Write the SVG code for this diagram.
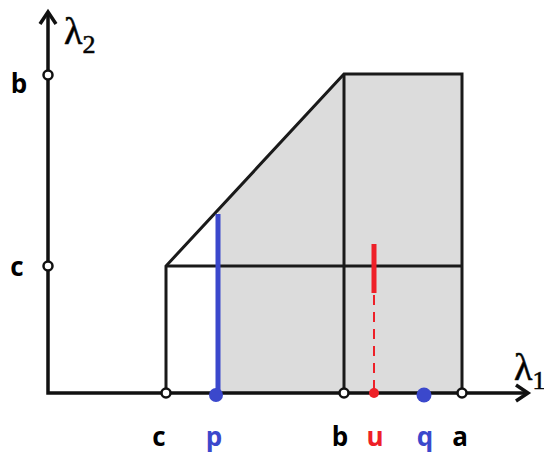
<svg xmlns="http://www.w3.org/2000/svg" width="544" height="456" viewBox="0 0 544 456">
<style>
.ln{stroke:#1a1a1a;stroke-width:3;fill:none}
.ax{stroke:#111;stroke-width:3.5;fill:none}
.oc{fill:#fff;stroke:#111;stroke-width:2.5}
.lb{font-family:"Open Sans","Liberation Sans",sans-serif;font-weight:bold;font-size:26px;text-anchor:middle}
.gr{font-family:"Liberation Serif","DejaVu Serif",serif;font-size:38px;stroke:#111;stroke-width:0.6}
</style>
<rect width="544" height="456" fill="#fff"/>
<g id="region">
<polygon points="218,211 344,74 462,74 462,393 218,393" fill="#dcdcdc"/>
</g>
<g id="connectors">
<polyline class="ln" points="166,393 166,266 344,74 462,74 462,393"/>
<line class="ln" x1="166" y1="266" x2="462" y2="266"/>
<line class="ln" x1="344" y1="74" x2="344" y2="393"/>
<polyline class="ax" points="48,12 48,393 528,393"/>
<polyline class="ax" points="40,24 48,12 56,24"/>
<polyline class="ax" points="516,385 528,393 516,401"/>
<line x1="218" y1="214" x2="218" y2="393" stroke="#3b48cc" stroke-width="5"/>
<line x1="374" y1="244" x2="374" y2="293" stroke="#ee2028" stroke-width="5"/>
<line x1="374" y1="295" x2="374" y2="393" stroke="#ee2028" stroke-width="2" stroke-dasharray="10,7"/>
</g>
<g id="points">
<circle class="oc" cx="48" cy="75" r="4.5"/>
<circle class="oc" cx="48" cy="266" r="4.5"/>
<circle class="oc" cx="166" cy="393" r="4.5"/>
<circle class="oc" cx="344" cy="393" r="4.5"/>
<circle class="oc" cx="462" cy="393" r="4.5"/>
<circle cx="374" cy="393" r="5" fill="#ee2028"/>
<circle cx="216" cy="395" r="7" fill="#3b48cc"/>
<circle cx="424" cy="395" r="7.5" fill="#3b48cc"/>
</g>
<g id="labels">
<text class="gr" x="64" y="44">λ<tspan font-size="26" dy="9">2</tspan></text>
<text class="gr" x="514" y="380">λ<tspan font-size="26" dy="9">1</tspan></text>
<text class="lb" x="19" y="93">b</text>
<text class="lb" x="17" y="276">c</text>
<text class="lb" x="159" y="446">c</text>
<text class="lb" x="214" y="446" fill="#3b48cc">p</text>
<text class="lb" x="340" y="446">b</text>
<text class="lb" x="375" y="446" fill="#ee2028">u</text>
<text class="lb" x="425" y="446" fill="#3b48cc">q</text>
<text class="lb" x="460" y="446">a</text>
</g>
</svg>
